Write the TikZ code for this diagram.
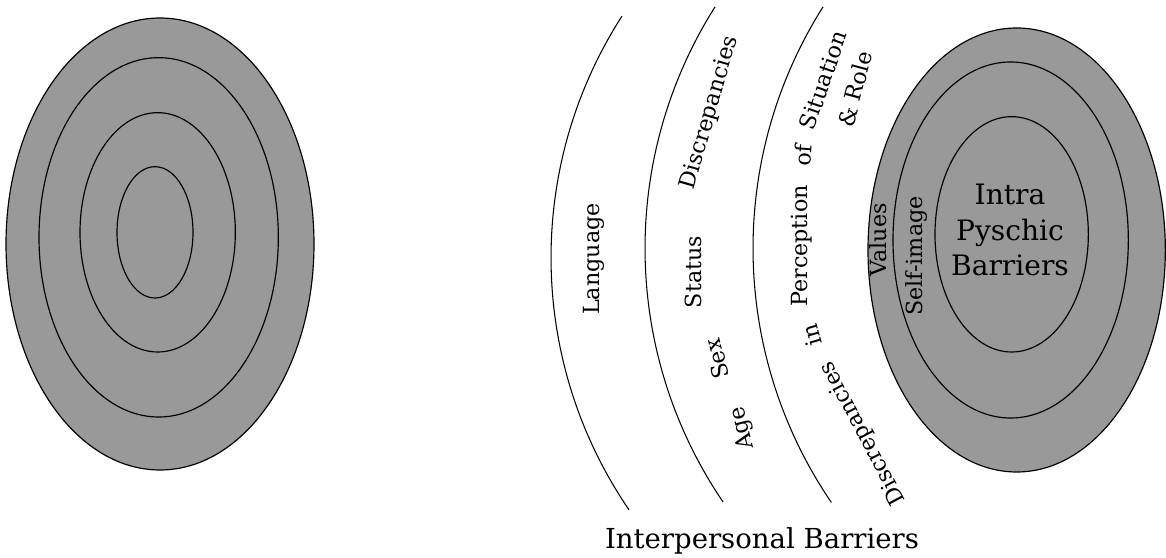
\documentclass[tikz,border=0pt]{standalone}
\usepackage{fontspec}
\setmainfont{DejaVu Serif}
\usetikzlibrary{shapes.geometric}

\begin{document}
\begin{tikzpicture}
    \useasboundingbox (0,0) rectangle (34.98,16.74);

    \begin{scope}
      \tikzstyle{rnode} = [draw=black, line width=1pt, ellipse, inner sep = 0pt, fill=black!40]
      \node[rnode, minimum width=9.24cm, minimum height=13.56cm] (a1) at (4.80,9.42) {};
      \node[rnode, minimum width=7.18cm, minimum height=10.78cm] (a2) at (4.76,9.62) {};
      \node[rnode, minimum width=4.66cm, minimum height=7.18cm] (a3) at (4.73,9.77) {};
      \node[rnode, minimum width=2.28cm, minimum height=3.94cm] (a4) at (4.65,9.77) {};
    \end{scope}

    \begin{scope}
      \tikzstyle{rnode} = [draw=black, line width=1pt, ellipse, inner sep = 0pt, fill=black!40]
      \tikzstyle{tnode} = [inner sep = 0pt, font=\fontsize{19}{22}\selectfont]
      % rings of the self
      \node[rnode, minimum width=8.92cm, minimum height=13.32cm] (b1) at (30.50,9.24) {};
      \node[rnode, minimum width=7.06cm, minimum height=10.68cm] (b2) at (30.32,9.54) {};
      \node[rnode, minimum width=4.60cm, minimum height=7.06cm] (b3) at (30.35,9.71) {};
      \node[inner sep = 0pt, align=center, font=\fontsize{24}{30}\selectfont] (core) at (30.30,9.84) {Intra\\Pyschic\\Barriers};
      \node[tnode, rotate=90] (values) at (26.34,9.54) {Values};
      \node[tnode, rotate=90] (self) at (27.51,9.06) {Self-image};

      % interpersonal bands
      \coordinate (c1) at (29.93,9.01);
      \coordinate (c2) at (32.89,9.29);
      \coordinate (c3) at (36.13,9.29);
      \draw[line width=0.9pt] ([shift={(147.25:13.40)}]c1) arc[start angle=147.25, end angle=214.38, radius=13.40];
      \draw[line width=0.9pt] ([shift={(147.65:13.54)}]c2) arc[start angle=147.65, end angle=214.2, radius=13.54];
      \draw[line width=0.9pt] ([shift={(147.65:13.54)}]c3) arc[start angle=147.65, end angle=214.27, radius=13.54];

      \node[tnode, rotate=90] (lang) at (17.82,8.97) {Language};
      \node[tnode, rotate=90] (status) at (20.79,8.58) {Status};
      \node[tnode, rotate=74] (disc1) at (21.30,13.35) {Discrepancies};
      \node[tnode, rotate=104] (sex) at (21.51,5.97) {Sex};
      \node[tnode, rotate=104] (age) at (22.29,3.90) {Age};
      \node[tnode, rotate=118] (disc2) at (25.89,3.75) {Discrepancies};
      \node[tnode, rotate=106] (in) at (24.36,6.69) {in};
      \node[tnode, rotate=90] (perc) at (24.06,9.36) {Perception};
      \node[tnode, rotate=86] (of) at (24.09,12.09) {of};
      \node[tnode, rotate=71] (sit) at (24.69,14.34) {Situation};
      \node[tnode, rotate=75] (role) at (25.65,14.07) {\& Role};

      \node[inner sep = 0pt, font=\fontsize{23.5}{27}\selectfont] (inter) at (22.86,0.50) {Interpersonal Barriers};
    \end{scope}

\end{tikzpicture}
\end{document}
